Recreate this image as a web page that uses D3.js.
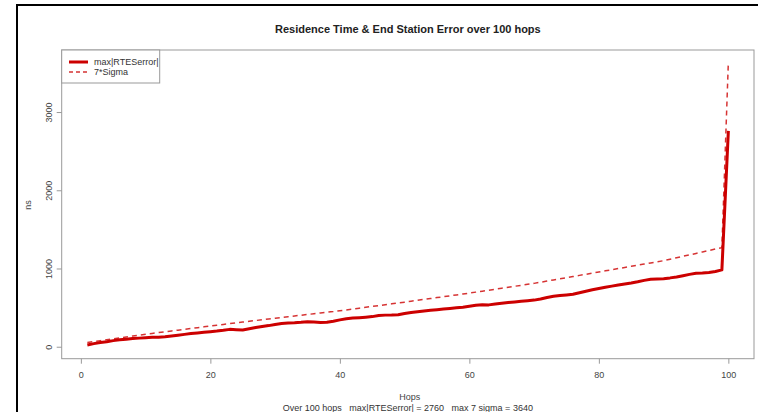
<!DOCTYPE html>
<html>
<head>
<meta charset="utf-8">
<script src="https://cdn.jsdelivr.net/npm/d3@7"></script>
<style>
  html, body { margin: 0; padding: 0; background: #fff; }
  svg { display: block; font-family: "Liberation Sans", Arial, sans-serif; }
</style>
</head>
<body>
<svg id="chart" width="758" height="412"></svg>
<script>
// ---- data ----
const hops = d3.range(1, 101);
const maxRTESerror = [
  23, 40, 55, 65, 78, 88, 96, 105, 110, 116,
  120, 122, 128, 138, 148, 158, 168, 176, 185, 193,
  200, 210, 222, 218, 215, 230, 245, 258, 270, 285,
  297, 302, 306, 312, 320, 315, 310, 312, 325, 343,
  358, 366, 372, 378, 385, 398, 404, 405, 408, 425,
  438, 448, 458, 466, 474, 482, 490, 498, 506, 518,
  530, 538, 535, 545, 555, 565, 573, 580, 588, 596,
  610, 630, 645, 655, 662, 670, 690, 710, 728, 745,
  760, 775, 790, 802, 815, 830, 848, 862, 866, 870,
  880, 892, 908, 925, 938, 942, 950, 962, 982, 2760
];
const sevenSigma = [
  55, 67, 78, 90, 102, 113, 125, 137, 148, 160,
  170, 181, 191, 202, 212, 223, 233, 244, 254, 265,
  275, 285, 295, 305, 315, 325, 335, 345, 355, 365,
  374, 384, 393, 403, 412, 422, 431, 441, 450, 460,
  471, 482, 493, 504, 515, 526, 537, 548, 559, 570,
  582, 593, 605, 616, 628, 639, 651, 662, 674, 685,
  698, 710, 723, 735, 748, 760, 773, 785, 798, 810,
  825, 839, 854, 868, 883, 897, 912, 926, 941, 955,
  970, 984, 999, 1013, 1028, 1042, 1057, 1071, 1086, 1100,
  1119, 1137, 1156, 1174, 1193, 1212, 1230, 1249, 1267, 3640
];
const xTicks = [0, 20, 40, 60, 80, 100];
const yTicks = [0, 1000, 2000, 3000];
const seriesNames = ["max|RTESerror|", "7*Sigma"];
const titleText = "Residence Time & End Station Error over 100 hops";
const xLabel = "Hops";
const yLabel = "ns";
const subText = "Over 100 hops   max|RTESerror| = 2760   max 7 sigma = 3640";

// ---- layout ----
const W = 758, H = 412;
const box = { left: 61.7, right: 754, top: 50, bottom: 358.7 };
const red = "#cc0000";
const gray = "#999";
const textCol = "#444";

const svg = d3.select("#chart");

// frame lines of the screenshot
svg.append("line").attr("x1", 17).attr("x2", 17).attr("y1", 4).attr("y2", H)
  .attr("stroke", "#000").attr("stroke-width", 2);
svg.append("line").attr("x1", 16).attr("x2", W).attr("y1", 5).attr("y2", 5)
  .attr("stroke", "#000").attr("stroke-width", 2);

// scales (R-style 4% padding on x)
const xe = d3.extent(hops);
const xpad = (xe[1] - xe[0]) * 0.04;
const x = d3.scaleLinear().domain([xe[0] - xpad, xe[1] + xpad]).range([box.left, box.right]);
const y = d3.scaleLinear().domain([-153, 3793]).range([box.bottom, box.top]);

// plot box
svg.append("rect")
  .attr("x", box.left).attr("y", box.top)
  .attr("width", box.right - box.left).attr("height", box.bottom - box.top)
  .attr("fill", "none").attr("stroke", gray).attr("stroke-width", 1);

// x axis
const xAxis = d3.axisBottom(x).tickValues(xTicks).tickSize(5).tickPadding(8).tickFormat(d3.format("d"));
const gx = svg.append("g").attr("transform", `translate(0,${box.bottom})`).call(xAxis);
gx.select(".domain").remove();
gx.selectAll("line").attr("stroke", gray);
gx.selectAll("text").attr("fill", textCol).attr("font-size", 9).attr("font-family", "Liberation Sans, Arial, sans-serif");

// y axis
const yAxis = d3.axisLeft(y).tickValues(yTicks).tickSize(5).tickFormat(d3.format("d"));
const gy = svg.append("g").attr("transform", `translate(${box.left},0)`).call(yAxis);
gy.select(".domain").remove();
gy.selectAll("line").attr("stroke", gray);
gy.selectAll("text")
  .attr("fill", textCol).attr("font-size", 9).attr("font-family", "Liberation Sans, Arial, sans-serif")
  .attr("x", null).attr("dy", null)
  .attr("text-anchor", "middle")
  .attr("transform", "translate(-13,0) rotate(-90)")
  .attr("dy", "0.35em");

// lines
const lineGen = d3.line().x((d, i) => x(hops[i])).y(d => y(d));
svg.append("path").datum(sevenSigma)
  .attr("d", lineGen)
  .attr("fill", "none").attr("stroke", red).attr("stroke-width", 1.5)
  .attr("stroke-dasharray", "5,4").attr("opacity", 0.8);
svg.append("path").datum(maxRTESerror)
  .attr("d", lineGen)
  .attr("fill", "none").attr("stroke", red).attr("stroke-width", 3)
  .attr("stroke-linejoin", "round");

// legend
svg.append("rect").attr("x", box.left).attr("y", box.top)
  .attr("width", 98).attr("height", 33)
  .attr("fill", "#fff").attr("stroke", gray).attr("stroke-width", 1);
const leg = [
  { name: seriesNames[0], w: 3, dash: null, yy: 62 },
  { name: seriesNames[1], w: 1.5, dash: "4,3", yy: 72 }
];
leg.forEach(l => {
  svg.append("line").attr("x1", 69).attr("x2", 88).attr("y1", l.yy).attr("y2", l.yy)
    .attr("stroke", red).attr("stroke-width", l.w)
    .attr("stroke-dasharray", l.dash).attr("opacity", l.dash ? 0.8 : 1);
  svg.append("text").attr("x", 94).attr("y", l.yy + 3.2)
    .attr("font-size", 9).attr("fill", "#333").text(l.name);
});

// titles
svg.append("text").attr("x", (box.left + box.right) / 2).attr("y", 33)
  .attr("text-anchor", "middle").attr("font-size", 11).attr("font-weight", "bold")
  .attr("fill", "#222").text(titleText);
svg.append("text").attr("x", (box.left + box.right) / 2 + 2).attr("y", 400)
  .attr("text-anchor", "middle").attr("font-size", 9).attr("fill", textCol).text(xLabel);
svg.append("text").attr("x", (box.left + box.right) / 2).attr("y", 411)
  .attr("text-anchor", "middle").attr("font-size", 9).attr("fill", "#333")
  .attr("xml:space", "preserve").style("white-space", "pre").text(subText);
svg.append("text").attr("transform", "translate(31,205) rotate(-90)")
  .attr("text-anchor", "middle").attr("font-size", 9).attr("fill", textCol).text(yLabel);
</script>
</body>
</html>
